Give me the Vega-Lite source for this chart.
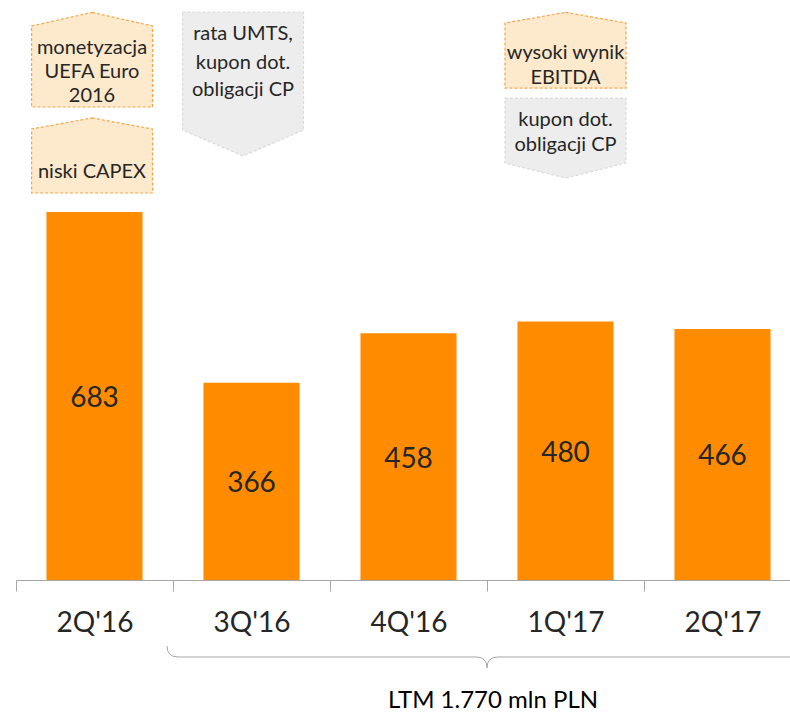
{
  "$schema": "https://vega.github.io/schema/vega-lite/v6.json",
  "width": 774,
  "height": 580,
  "autosize": {"type": "none"},
  "padding": {"left": 16, "top": 0, "right": 0, "bottom": 135},
  "config": {"view": {"stroke": null}, "font": "Lato"},
  "datasets": {
    "bars": [
      {"q": "2Q'16", "v": 683},
      {"q": "3Q'16", "v": 366},
      {"q": "4Q'16", "v": 458},
      {"q": "1Q'17", "v": 480},
      {"q": "2Q'17", "v": 466}
    ],
    "boxes": [
      {"q": "2Q'16", "id": "a", "kind": "orange", "y": 965.7},
      {"q": "2Q'16", "id": "b", "kind": "orange", "y": 787.9},
      {"q": "3Q'16", "id": "c", "kind": "gray", "y": 920.6},
      {"q": "1Q'17", "id": "e", "kind": "orange", "y": 983.3},
      {"q": "1Q'17", "id": "f", "kind": "gray", "y": 820.3}
    ],
    "notes": [
      {"g": "L", "q": "2Q'16", "t": "monetyzacja", "y": 989.2},
      {"g": "L", "q": "2Q'16", "t": "UEFA Euro", "y": 944.7},
      {"g": "L", "q": "2Q'16", "t": "2016", "y": 900.1},
      {"g": "L", "q": "2Q'16", "t": "niski CAPEX", "y": 759.1},
      {"g": "C", "q": "3Q'16", "t": "rata UMTS,", "y": 1015.2},
      {"g": "C", "q": "3Q'16", "t": "kupon dot.", "y": 961.4},
      {"g": "C", "q": "3Q'16", "t": "obligacji CP", "y": 911.3},
      {"g": "R", "q": "1Q'17", "t": "wysoki wynik", "y": 980.0},
      {"g": "R", "q": "1Q'17", "t": "EBITDA", "y": 933.6},
      {"g": "R", "q": "1Q'17", "t": "kupon dot.", "y": 855.6},
      {"g": "R", "q": "1Q'17", "t": "obligacji CP", "y": 809.2}
    ],
    "brace": [
      {"q": "1Q'17", "y": -142.9, "t": "LTM 1.770 mln PLN", "ty": -219}
    ]
  },
  "encoding": {
    "x": {
      "field": "q",
      "type": "nominal",
      "sort": ["2Q'16", "3Q'16", "4Q'16", "1Q'17", "2Q'17"],
      "scale": {"range": [0, 785], "paddingInner": 0, "paddingOuter": 0},
      "axis": {
        "title": null,
        "labelAngle": 0,
        "domainColor": "#a6a6a6",
        "tickColor": "#a6a6a6",
        "tickBand": "extent",
        "tickSize": 11,
        "labelFont": "Lato",
        "labelFontSize": 28,
        "labelColor": "#262626",
        "labelPadding": 18
      }
    }
  },
  "layer": [
    {
      "data": {"name": "bars"},
      "mark": {"type": "bar", "color": "#FF8C00", "width": {"band": 0.612}},
      "encoding": {
        "y": {"field": "v", "type": "quantitative", "scale": {"domain": [0, 1076.5], "nice": false, "zero": true}, "axis": null}
      }
    },
    {
      "data": {"name": "bars"},
      "transform": [{"calculate": "datum.v / 2", "as": "mid"}],
      "mark": {"type": "text", "fontSize": 28, "font": "Lato", "color": "#262626", "baseline": "middle", "dy": 3},
      "encoding": {
        "y": {"field": "mid", "type": "quantitative"},
        "text": {"field": "v", "type": "quantitative"}
      }
    },
    {
      "data": {"name": "boxes"},
      "transform": [{"filter": "datum.kind === 'orange'"}],
      "mark": {"type": "point", "filled": true, "opacity": 1, "size": 14641, "fill": "#FDE9CB", "stroke": "#F7A54A", "strokeWidth": 1.2, "strokeDash": [3, 2]},
      "encoding": {
        "y": {"field": "y", "type": "quantitative"},
        "shape": {
          "field": "id",
          "type": "nominal",
          "legend": null,
          "scale": {
            "domain": ["a", "b", "c", "e", "f"],
            "range": [
              "M -0.04 -0.782 L 0.96 -0.557 L 0.96 0.782 L -1.04 0.782 L -1.04 -0.557 Z",
              "M -0.04 -0.62 L 0.96 -0.438 L 0.96 0.62 L -1.04 0.62 L -1.04 -0.438 Z",
              "M -1.14 -1.19 L 0.86 -1.19 L 0.86 0.76 L -0.14 1.19 L -1.14 0.76 Z",
              "M 0 -0.626 L 1 -0.45 L 1 0.626 L -1 0.626 L -1 -0.45 Z",
              "M -1 -0.661 L 1 -0.661 L 1 0.413 L 0 0.661 L -1 0.413 Z"
            ]
          }
        }
      }
    },
    {
      "data": {"name": "boxes"},
      "transform": [{"filter": "datum.kind === 'gray'"}],
      "mark": {"type": "point", "filled": true, "opacity": 1, "size": 14641, "fill": "#EDEDED", "stroke": "#DADADA", "strokeWidth": 1.2, "strokeDash": [3, 2]},
      "encoding": {
        "y": {"field": "y", "type": "quantitative"},
        "shape": {"field": "id", "type": "nominal", "legend": null}
      }
    },
    {
      "data": {"name": "notes"},
      "transform": [{"filter": "datum.g === 'L'"}],
      "mark": {"type": "text", "fontSize": 20, "font": "Lato", "color": "#262626", "baseline": "middle", "dx": -2.5, "dy": 1},
      "encoding": {
        "y": {"field": "y", "type": "quantitative"},
        "text": {"field": "t", "type": "nominal"}
      }
    },
    {
      "data": {"name": "notes"},
      "transform": [{"filter": "datum.g === 'C'"}],
      "mark": {"type": "text", "fontSize": 20, "font": "Lato", "color": "#262626", "baseline": "middle", "dx": -8.5, "dy": 1},
      "encoding": {
        "y": {"field": "y", "type": "quantitative"},
        "text": {"field": "t", "type": "nominal"}
      }
    },
    {
      "data": {"name": "notes"},
      "transform": [{"filter": "datum.g === 'R'"}],
      "mark": {"type": "text", "fontSize": 20, "font": "Lato", "color": "#262626", "baseline": "middle", "dx": 0, "dy": 1},
      "encoding": {
        "y": {"field": "y", "type": "quantitative"},
        "text": {"field": "t", "type": "nominal"}
      }
    },
    {
      "data": {"name": "brace"},
      "mark": {
        "type": "point",
        "filled": false,
        "opacity": 1,
        "size": 394384,
        "stroke": "#a6a6a6",
        "strokeWidth": 1,
        "shape": "M -1.019 -0.035 Q -1.019 0 -0.984 0 L -0.035 0 Q 0 0 0 0.035 Q 0 0 0.035 0 L 0.984 0 Q 1.019 0 1.019 -0.035"
      },
      "encoding": {
        "x": {"field": "q", "type": "nominal", "bandPosition": 0},
        "y": {"field": "y", "type": "quantitative"}
      }
    },
    {
      "data": {"name": "brace"},
      "mark": {"type": "text", "fontSize": 24, "font": "Lato", "color": "#000000", "baseline": "middle", "dx": 6, "dy": 3},
      "encoding": {
        "x": {"field": "q", "type": "nominal", "bandPosition": 0},
        "y": {"field": "ty", "type": "quantitative"},
        "text": {"field": "t", "type": "nominal"}
      }
    }
  ]
}
